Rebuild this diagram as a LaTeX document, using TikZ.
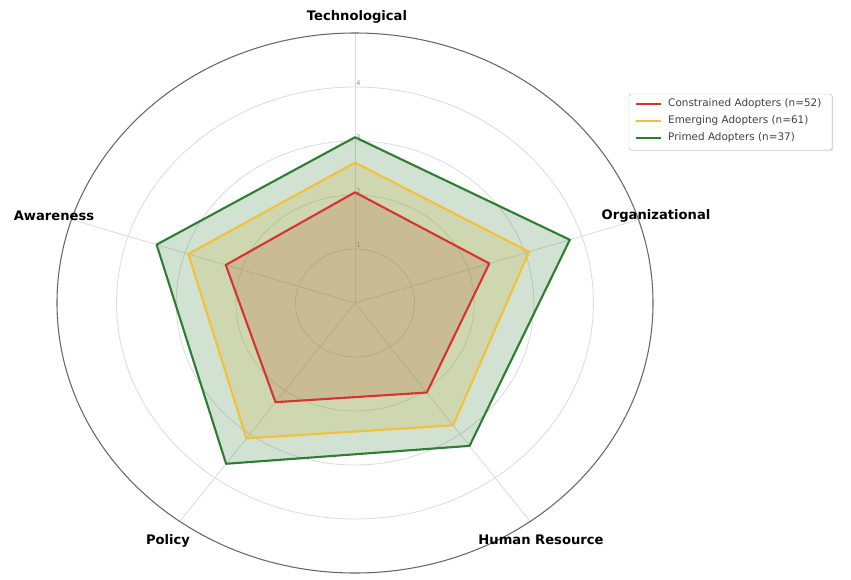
\documentclass[tikz,border=0pt]{standalone}
\usepackage{fontspec}
\setmainfont{DejaVu Sans}
\usetikzlibrary{shadows}

\definecolor{constrained}{RGB}{214,52,48}
\definecolor{emerging}{RGB}{242,192,58}
\definecolor{primed}{RGB}{46,125,50}

\begin{document}
\begin{tikzpicture}[x=0.03cm, y=-0.03cm,
    axislabel/.style={font=\fontsize{11.2}{13}\selectfont\bfseries, inner sep=0pt},
    ticklabel/.style={font=\fontsize{5.5}{6}\selectfont, text=black!45, anchor=south west, inner sep=1pt},
    ringline/.style={draw=black!14, line width=0.7pt},
    spoke/.style={draw=black!14, line width=0.7pt},
    seriesfill/.style={fill=#1, fill opacity=0.22},
    seriesline/.style={draw=#1, line width=1.8pt, line join=round},
    legendbox/.style={draw=black!25, fill=white, rounded corners=2pt, minimum width=6.09cm,
        minimum height=1.68cm, drop shadow={opacity=0.25, shadow xshift=1pt, shadow yshift=-1pt}},
    legendtext/.style={font=\fontsize{8.9}{10}\selectfont, text=black!75, anchor=west, inner sep=0pt}]
    \useasboundingbox (0,0) rectangle (851,579);

    \begin{scope}[shift={(355,303)}, xscale=298, yscale=-270]
        \foreach \r in {0.2,0.4,0.6,0.8}
            \draw[ringline] (0,0) circle (\r);
        \foreach \a in {90,18,-54,-126,162}
            \draw[spoke] (0,0) -- (\a:1);
        \draw[black!60, line width=0.9pt] (0,0) circle (1);
        \foreach \v in {1,...,4}
            \node[ticklabel] (tick\v) at ({90}:{\v/5}) {\v};

        \foreach \clr/\t/\o/\h/\p/\w in {constrained/2.05/2.37/2.05/2.27/2.28,
                emerging/2.6/3.07/2.8/3.1/2.94,
                primed/3.07/3.79/3.27/3.68/3.5}
            \path[seriesfill=\clr] ({90}:{\t/5}) -- ({18}:{\o/5}) -- ({-54}:{\h/5})
                -- ({-126}:{\p/5}) -- ({162}:{\w/5}) -- cycle;
        \foreach \clr/\t/\o/\h/\p/\w in {constrained/2.05/2.37/2.05/2.27/2.28,
                emerging/2.6/3.07/2.8/3.1/2.94,
                primed/3.07/3.79/3.27/3.68/3.5}
            \draw[seriesline=\clr] ({90}:{\t/5}) -- ({18}:{\o/5}) -- ({-54}:{\h/5})
                -- ({-126}:{\p/5}) -- ({162}:{\w/5}) -- cycle;
    \end{scope}

    \node[axislabel] (tech) at (357,17) {Technological};
    \node[axislabel] (org) at (656,216) {Organizational};
    \node[axislabel] (hr) at (541,540) {Human Resource};
    \node[axislabel] (pol) at (168,541) {Policy};
    \node[axislabel] (aware) at (54,216) {Awareness};

    % legend
    \node[legendbox] (legend) at (730.5,122) {};
    \foreach \clr/\txt/\y [count=\i] in {constrained/Constrained Adopters (n=52)/104,
            emerging/Emerging Adopters (n=61)/121,
            primed/Primed Adopters (n=37)/138} {
        \coordinate (key\i) at (636,\y);
        \draw[\clr, line width=1.8pt] (key\i) -- ++(25,0);
        \node[legendtext] (entry\i) at (668,\y) {\txt};
    }
\end{tikzpicture}
\end{document}
